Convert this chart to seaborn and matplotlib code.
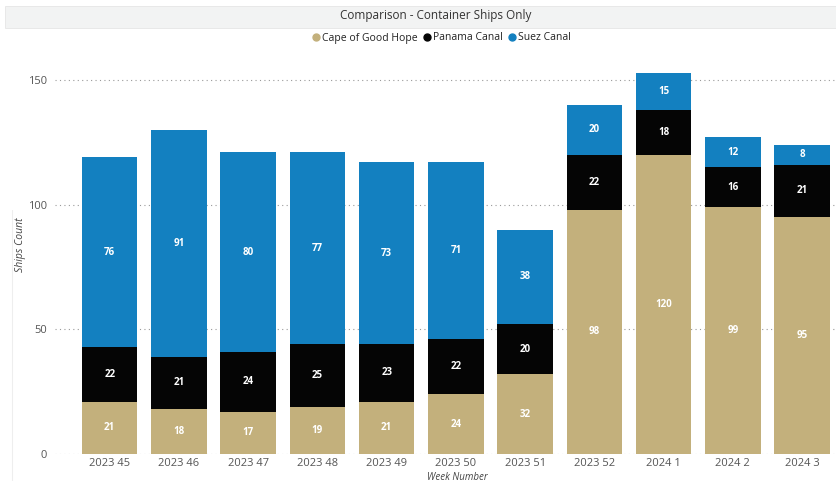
import matplotlib
matplotlib.use("Agg")
import matplotlib.pyplot as plt
from matplotlib.lines import Line2D
from matplotlib.patches import Rectangle
import seaborn as sns
import pandas as pd
import numpy as np

weeks = ["2023 45", "2023 46", "2023 47", "2023 48", "2023 49", "2023 50",
         "2023 51", "2023 52", "2024 1", "2024 2", "2024 3"]
cape = [21, 18, 17, 19, 21, 24, 32, 98, 120, 99, 95]
panama = [22, 21, 24, 25, 23, 22, 20, 22, 18, 16, 21]
suez = [76, 91, 80, 77, 73, 71, 38, 20, 15, 12, 8]
series_names = ["Cape of Good Hope", "Panama Canal", "Suez Canal"]
yticks = [0, 50, 100, 150]

c_cape = "#C3B07C"
c_pan = "#050505"
c_suez = "#1380C0"

df = pd.DataFrame({"week": weeks, "cape": cape, "panama": panama, "suez": suez})
df["lvl1"] = df["cape"]
df["lvl2"] = df["cape"] + df["panama"]
df["lvl3"] = df["lvl2"] + df["suez"]

sns.set_style("white")
plt.rcParams["font.family"] = ["Open Sans", "DejaVu Sans"]

fig = plt.figure(figsize=(8.36, 4.83), dpi=100)
W, H = 836, 483
ax = fig.add_axes([55 / W, 1 - 454 / H, (836 - 55) / W, (454 - 66) / H])

for col, colr in [("lvl3", c_suez), ("lvl2", c_pan), ("lvl1", c_cape)]:
    sns.barplot(data=df, x="week", y=col, color=colr, width=0.8, ax=ax,
                saturation=1, edgecolor="none", linewidth=0)

ax.set_xlim(-0.79, 10.49)
ax.set_ylim(0, (454 - 66) / (374 / 150))
ax.set_yticks(yticks)
ax.set_yticklabels([str(t) for t in yticks])
ax.yaxis.grid(True, linestyle=(0, (1, 3)), color="#9a9a9a", linewidth=0.8)
ax.set_axisbelow(True)
for s in ax.spines.values():
    s.set_visible(False)
ax.tick_params(axis="both", length=0, labelsize=8, colors="#555555")
ax.tick_params(axis="x", pad=3)
ax.tick_params(axis="y", pad=6)
ax.set_xlabel("Week Number", fontsize=7, style="italic", color="#444444")
ax.set_ylabel("Ships Count", fontsize=7.5, style="italic", color="#444444")
ax.xaxis.set_label_coords((457 - 55) / (836 - 55), -(477 - 454) / (454 - 66))
ax.xaxis.label.set_va("center")
ax.yaxis.set_label_coords(-(55 - 20) / (836 - 55), (454 - 245) / (454 - 66))
ax.yaxis.label.set_va("center")

for i in range(len(weeks)):
    for base, val in [(0, cape[i]), (cape[i], panama[i]), (cape[i] + panama[i], suez[i])]:
        ax.text(i, base + val / 2, str(val), ha="center", va="center",
                color="white", fontsize=7, fontweight="bold")

# title band
fig.patches.append(Rectangle((5 / W, 1 - 28 / H), (836 - 5) / W, 22 / H,
                             transform=fig.transFigure, facecolor="#F2F3F3",
                             edgecolor="#E6E6E6", linewidth=0.6, zorder=0))
fig.text(436 / W, 1 - 16 / H, "Comparison - Container Ships Only", ha="center",
         va="center", fontsize=8.5, color="#333333")

handles = [Line2D([], [], marker="o", linestyle="none", markersize=5,
                  markerfacecolor=c, markeredgecolor=c)
           for c in [c_cape, c_pan, c_suez]]
fig.legend(handles, series_names, loc="center", bbox_to_anchor=(441 / W, 1 - 38 / H),
           ncol=3, frameon=False, fontsize=7.5, handletextpad=0.15, columnspacing=0.4,
           handlelength=0.9, labelcolor="#222222")

# faint left border
fig.add_artist(Line2D([12 / W, 12 / W], [1 - 480 / H, 1 - 210 / H],
                      transform=fig.transFigure, color="#EEEEEE", linewidth=0.8))

fig.savefig("out.png", dpi=100)
